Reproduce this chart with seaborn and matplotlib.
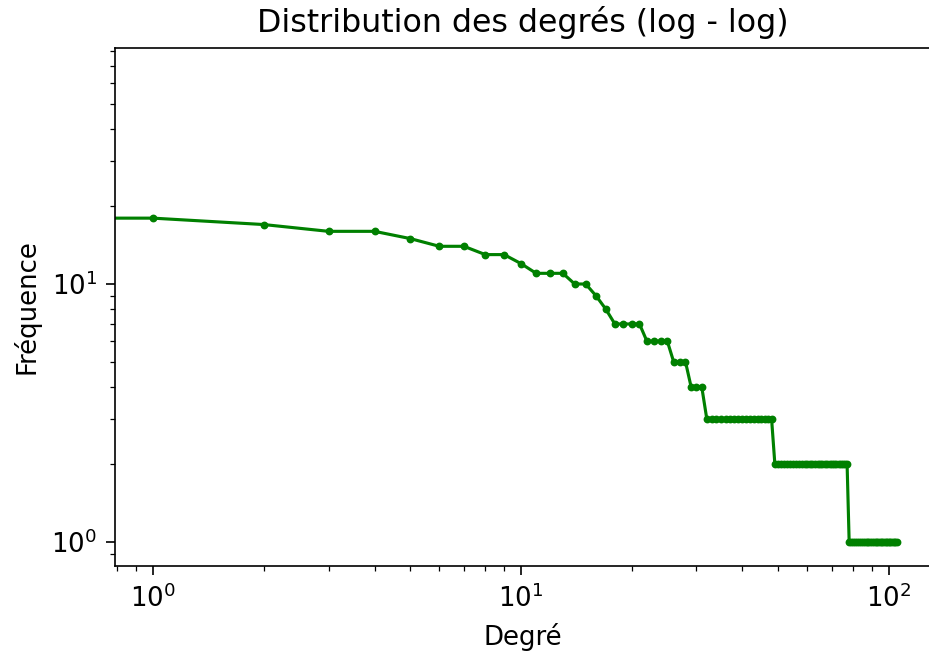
import matplotlib
matplotlib.use("Agg")
import matplotlib.pyplot as plt
import seaborn as sns
import pandas as pd
import numpy as np

# Sorted degree values (index 0..105)
degree_values = (
    [18, 18, 17, 16, 16, 15, 14, 14, 13, 13, 12, 11, 11, 11, 10, 10, 9, 8,
     7, 7, 7, 7, 6, 6, 6, 6, 5, 5, 5, 4, 4, 4]
    + [3] * 17
    + [2] * 29
    + [1] * 28
)
ranks = list(range(len(degree_values)))

title = "Distribution des degrés (log - log)"
xlabel = "Degré"
ylabel = "Fréquence"

df = pd.DataFrame({"rank": ranks, "deg": degree_values})

W, H, DPI = 929, 653, 150
fig = plt.figure(figsize=(W / DPI, H / DPI), dpi=DPI)
left = 115 / W
bottom = 1 - 566 / H
top = 1 - 48 / H
ax = fig.add_axes([left, bottom, 1.002 - left, top - bottom])

ax.set_xscale("log")
ax.set_yscale("log")

sns.lineplot(data=df, x="rank", y="deg", ax=ax, color="green", marker=".",
             markersize=6, markeredgecolor="green", linewidth=1.5,
             estimator=None, sort=False)

x0 = 10 ** ((115 - 153) / 368)
x1 = 10 ** ((931 - 153) / 368)
y0 = 10 ** ((542 - 566) / 258)
y1 = 10 ** ((542 - 48) / 258)
ax.set_xlim(x0, x1)
ax.set_ylim(y0, y1)

ax.tick_params(axis="both", which="major", labelsize=12.5, length=4.2, pad=4.5)
ax.tick_params(axis="both", which="minor", length=2.4)
ax.set_title(title, fontsize=15.2, pad=7.5)
ax.set_xlabel(xlabel, fontsize=12.5, labelpad=5)
ax.set_ylabel(ylabel, fontsize=12.5, labelpad=5)

fig.savefig("out.png", dpi=DPI)
